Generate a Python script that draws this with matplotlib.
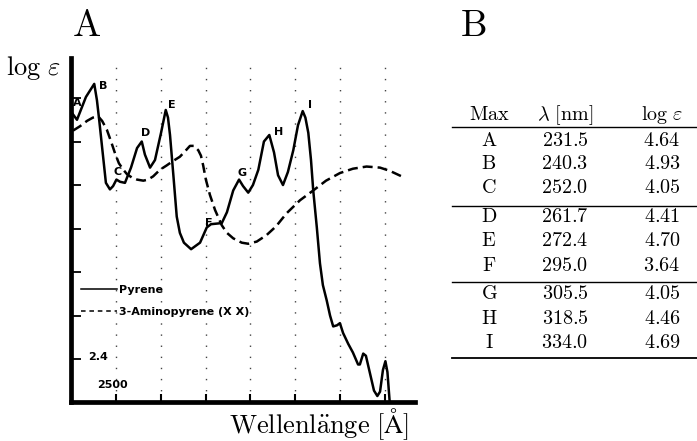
import matplotlib
matplotlib.use('Agg')
import matplotlib.pyplot as plt
from matplotlib.lines import Line2D

plt.rcParams['mathtext.fontset'] = 'cm'

# Pyrene (durchgezogen): Wellenlaenge [nm], log eps
pyrene_nm = [230.1, 232.6, 236.6, 240.3, 241.5, 242.5, 244.1, 245.5, 247.3, 248.7,
             250.2, 251.8, 254.0, 256.7, 259.4, 261.5, 262.9, 265.2, 267.4, 270.1,
             272.2, 273.2, 274.1, 275.6, 277.1, 278.5, 280.3, 283.5, 287.5, 290.5,
             292.4, 297.2, 299.5, 302.3, 304.9, 306.7, 309.0, 311.1, 313.5, 316.0,
             318.4, 320.5, 322.3, 324.5, 326.7, 329.1, 331.2, 333.3, 334.5, 335.8,
             337.0, 338.0, 339.6, 341.0, 342.3, 344.0, 345.5, 346.9, 348.6, 349.9,
             351.3, 353.6, 355.7, 358.0, 358.8, 360.3, 361.5, 363.3, 365.1, 366.6,
             367.8, 369.1, 370.2, 371.1, 372.2]
pyrene_loge = [4.67, 4.60, 4.81, 4.93, 4.78, 4.60, 4.29, 4.02, 3.96, 3.99,
               4.05, 4.03, 4.02, 4.16, 4.34, 4.40, 4.28, 4.16, 4.23, 4.48,
               4.69, 4.62, 4.46, 4.09, 3.71, 3.56, 3.47, 3.41, 3.47, 3.61,
               3.64, 3.65, 3.75, 3.95, 4.05, 3.99, 3.93, 4.00, 4.14, 4.40,
               4.46, 4.30, 4.09, 4.00, 4.12, 4.32, 4.55, 4.68, 4.62, 4.48,
               4.23, 3.95, 3.61, 3.28, 3.08, 2.94, 2.80, 2.70, 2.71, 2.73,
               2.64, 2.54, 2.46, 2.35, 2.35, 2.45, 2.43, 2.27, 2.11, 2.06,
               2.10, 2.30, 2.38, 2.28, 1.98]

# 3-Aminopyren (gestrichelt)
amino_nm = [230.8, 233.9, 237.1, 239.7, 242.1, 243.8, 245.9, 247.8, 249.6, 251.3,
            253.3, 254.9, 257.0, 259.4, 262.2, 264.3, 266.6, 269.6, 272.6, 275.4,
            278.5, 280.8, 283.0, 284.8, 286.7, 287.9, 288.9, 290.1, 291.9, 294.2,
            297.2, 299.5, 302.3, 306.1, 309.0, 312.8, 317.2, 321.4, 326.1, 332.1,
            338.0, 343.7, 349.9, 355.7, 361.8, 367.8, 372.2, 377.4]
amino_loge = [4.50, 4.54, 4.59, 4.62, 4.63, 4.59, 4.51, 4.40, 4.29, 4.20,
              4.14, 4.10, 4.07, 4.05, 4.04, 4.05, 4.08, 4.14, 4.18, 4.22,
              4.26, 4.31, 4.36, 4.36, 4.32, 4.27, 4.18, 4.05, 3.91, 3.77,
              3.63, 3.56, 3.51, 3.47, 3.46, 3.48, 3.54, 3.62, 3.74, 3.86,
              3.95, 4.04, 4.11, 4.15, 4.17, 4.16, 4.13, 4.08]

# Maxima (Tabelle B)
peak_names = ['A', 'B', 'C', 'D', 'E', 'F', 'G', 'H', 'I']
peak_nm = ['231.5', '240.3', '252.0', '261.7', '272.4', '295.0', '305.5', '318.5', '334.0']
peak_loge = ['4.64', '4.93', '4.05', '4.41', '4.70', '3.64', '4.05', '4.46', '4.69']

x_ticks = [250, 270, 290, 310, 330, 350, 370]
y_ticks = [2.4, 2.8, 3.2, 3.6, 4.0, 4.4, 4.8]

# Lage der Buchstaben im Spektrum
label_x = [232.5, 244.3, 250.6, 263.2, 275.0, 291.2, 306.3, 322.4, 336.5]
label_y = [4.75, 4.91, 4.12, 4.48, 4.74, 3.65, 4.11, 4.49, 4.74]

W, H = 697, 441
fig = plt.figure(figsize=(W / 100, H / 100), dpi=100)

def fx(px):
    return px / W

def fy(py):
    return 1 - py / H

ax = fig.add_axes([fx(71), fy(402), (415 - 71) / W, (402 - 58) / H])
ax.set_xlim(229.93, 383.4)
ax.set_ylim(2.005, 5.168)
for s in ['top', 'right']:
    ax.spines[s].set_visible(False)
for s in ['left', 'bottom']:
    ax.spines[s].set_linewidth(3.4)
ax.set_xticks(x_ticks)
ax.set_yticks(y_ticks)
ax.tick_params(axis='x', direction='in', length=6, width=1.5, labelbottom=False)
ax.tick_params(axis='y', direction='in', length=7.5, width=1.3, labelleft=False)
ax.grid(True, axis='x', color='#444444', linestyle=(0, (1, 7)), linewidth=1)

ax.plot(pyrene_nm, pyrene_loge, color='black', lw=1.8, solid_joinstyle='round')
ax.plot(amino_nm, amino_loge, color='black', lw=1.8, dashes=(4, 2))

lab_font = dict(family='DejaVu Sans', weight='bold', fontsize=8)
for name, x, y in zip(peak_names, label_x, label_y):
    ax.text(x, y, name, ha='center', va='center', **lab_font)

ax.text(241.8, 2.42, '2.4', ha='center', va='center', **lab_font)
ax.text(248.2, 2.16, '2500', ha='center', va='center', **lab_font)

handles = [Line2D([], [], color='black', lw=1.1),
           Line2D([], [], color='black', lw=1.1, dashes=(3, 2.5))]
ax.legend(handles, ['Pyrene', '3-Aminopyrene (X X)'], loc='center left',
          bbox_to_anchor=(0.029, 0.293), frameon=False, borderpad=0,
          borderaxespad=0, handlelength=3.2, handletextpad=0.2,
          labelspacing=1.05, prop=dict(family='DejaVu Sans', weight='bold', size=8))

# Beschriftungen
fig.text(fx(86), fy(26), r'$\mathrm{A}$', ha='center', va='center', fontsize=27)
fig.text(fx(473), fy(26), r'$\mathrm{B}$', ha='center', va='center', fontsize=27)
fig.text(fx(6), fy(75), r'$\log\,\varepsilon$', ha='left', va='baseline', fontsize=19)
fig.text(fx(409), fy(433), r'$\mathrm{Wellenl\ddot{a}nge}\ [\mathrm{\AA}]$',
         ha='right', va='baseline', fontsize=19)

# Tabelle B
col_x = [489, 565, 662]
row_y = [141, 163.5, 187.7, 216, 241, 265.3, 293.3, 318, 343]
tfs = 14.5
fig.text(fx(col_x[0]), fy(115), r'$\mathrm{Max}$', ha='center', va='center', fontsize=tfs)
fig.text(fx(col_x[1]), fy(115), r'$\lambda\ [\mathrm{nm}]$', ha='center', va='center', fontsize=tfs)
fig.text(fx(col_x[2]), fy(115), r'$\log\,\varepsilon$', ha='center', va='center', fontsize=tfs)
for name, nm, le, y in zip(peak_names, peak_nm, peak_loge, row_y):
    fig.text(fx(col_x[0]), fy(y), r'$\mathrm{%s}$' % name, ha='center', va='center', fontsize=tfs)
    fig.text(fx(col_x[1]), fy(y), r'$\mathrm{%s}$' % nm, ha='center', va='center', fontsize=tfs)
    fig.text(fx(col_x[2]), fy(y), r'$\mathrm{%s}$' % le, ha='center', va='center', fontsize=tfs)
for y, lw in [(127, 1.0), (206, 1.0), (281.7, 1.0), (357.7, 1.3)]:
    fig.add_artist(Line2D([fx(452), fx(697)], [fy(y), fy(y)], color='black', lw=lw))

fig.savefig('out.png', dpi=100)
